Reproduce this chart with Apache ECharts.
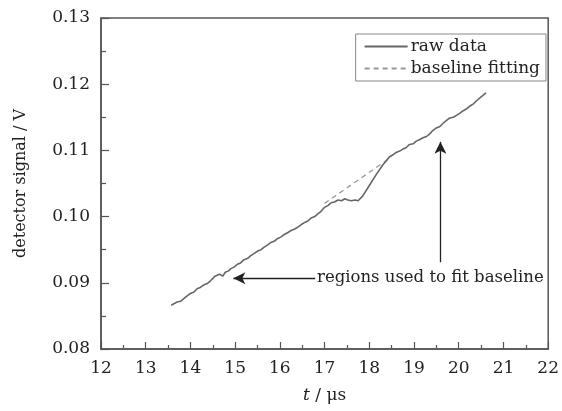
<!DOCTYPE html>
<html>
<head>
<meta charset="utf-8">
<script src="https://cdn.jsdelivr.net/npm/echarts@6/dist/echarts.min.js"></script>
<style>
  html, body { margin: 0; padding: 0; background: #fff; }
  #main { width: 562px; height: 411px; }
</style>
</head>
<body>
<div id="main"></div>
<script>
// raw detector trace [t (us), signal (V)]
var rawData = [
    [13.57, 0.0866], [13.65, 0.0869], [13.7, 0.0871], [13.78, 0.0872], [13.85, 0.0876],
    [13.92, 0.0880], [14.0, 0.0884], [14.08, 0.0886], [14.15, 0.0891], [14.22, 0.0893],
    [14.3, 0.0897], [14.38, 0.0899], [14.45, 0.0903], [14.55, 0.0910], [14.65, 0.0913],
    [14.72, 0.0910], [14.78, 0.0916], [14.85, 0.0918], [14.9, 0.0921], [14.98, 0.0924],
    [15.05, 0.0928], [15.12, 0.0930], [15.2, 0.0935], [15.28, 0.0937], [15.35, 0.0941],
    [15.42, 0.0944], [15.5, 0.0948], [15.58, 0.0950], [15.65, 0.0954], [15.72, 0.0957],
    [15.8, 0.0961], [15.88, 0.0963], [15.95, 0.0967], [16.02, 0.0969], [16.1, 0.0973],
    [16.18, 0.0976], [16.25, 0.0979], [16.32, 0.0981], [16.4, 0.0984], [16.48, 0.0988],
    [16.55, 0.0991], [16.62, 0.0993], [16.7, 0.0998], [16.78, 0.1000], [16.85, 0.1004],
    [16.92, 0.1008], [17.0, 0.1014], [17.08, 0.1017], [17.15, 0.1021], [17.22, 0.1022],
    [17.3, 0.1025], [17.38, 0.1024], [17.45, 0.1027], [17.52, 0.1025], [17.6, 0.1024],
    [17.68, 0.1025], [17.75, 0.1024], [17.85, 0.1031], [18.0, 0.1047], [18.15, 0.1063],
    [18.3, 0.1078], [18.45, 0.1090], [18.52, 0.1093], [18.6, 0.1097], [18.68, 0.1099],
    [18.75, 0.1102], [18.82, 0.1104], [18.9, 0.1109], [18.98, 0.1110], [19.05, 0.1114],
    [19.12, 0.1116], [19.2, 0.1119], [19.28, 0.1121], [19.35, 0.1125], [19.42, 0.1130],
    [19.5, 0.1134], [19.58, 0.1136], [19.65, 0.1141], [19.72, 0.1145], [19.8, 0.1149],
    [19.88, 0.1150], [19.95, 0.1153], [20.02, 0.1156], [20.1, 0.1160], [20.18, 0.1163],
    [20.25, 0.1167], [20.32, 0.1170], [20.4, 0.1175], [20.5, 0.1181], [20.61, 0.1187]
];
// fitted baseline across the dip
var baselineData = [[17.0, 0.1020], [18.45, 0.1088]];

var seriesNames = ['raw data', 'baseline fitting'];
var xTicks = [12, 22, 1];
var yTicks = [0.08, 0.13, 0.01];

// annotation arrows, in data units
var arrowLeft = [[16.79, 0.0907], [14.96, 0.0907]];
var arrowUp = [[19.59, 0.0931], [19.59, 0.1113]];
var noteText = 'regions used to fit baseline';
var notePos = [16.83, 0.0907];

var FONT = '"DejaVu Serif", "Liberation Serif", serif';
var AXIS_COLOR = '#555';

var myChart = echarts.init(document.getElementById('main'));

function arrowLine(pts) {
    return [{ coord: pts[0], symbol: 'none' }, { coord: pts[1], symbol: 'arrow' }];
}

var option = {
    animation: false,
    backgroundColor: '#fff',
    textStyle: { fontFamily: FONT },
    grid: {
        left: 101, right: 8, top: 18, bottom: 62,
        show: true, borderColor: AXIS_COLOR, borderWidth: 1.5
    },
    legend: {
        orient: 'vertical',
        right: 16, top: 34,
        data: seriesNames,
        itemWidth: 43, itemHeight: 10, itemGap: 5,
        padding: [4, 6, 4, 8],
        borderColor: '#888', borderWidth: 1,
        itemStyle: { opacity: 0 },
        textStyle: { fontFamily: FONT, fontSize: 17, color: '#222', padding: [0, 0, 0, -2] }
    },
    xAxis: {
        type: 'value',
        min: xTicks[0], max: xTicks[1], interval: xTicks[2],
        name: '{i|t} / μs',
        nameLocation: 'middle', nameGap: 38,
        nameTextStyle: {
            fontFamily: FONT, fontSize: 17, color: '#222',
            rich: { i: { fontFamily: FONT, fontSize: 17, fontStyle: 'italic', color: '#222' } }
        },
        axisLine: { lineStyle: { color: AXIS_COLOR, width: 1.5 } },
        axisTick: { inside: true, length: 7, lineStyle: { color: AXIS_COLOR, width: 1.2 } },
        minorTick: { show: true, splitNumber: 2, length: 4, lineStyle: { color: AXIS_COLOR, width: 1.2 } },
        axisLabel: { fontFamily: FONT, fontSize: 17, color: '#222', margin: 11 },
        splitLine: { show: false }
    },
    yAxis: {
        type: 'value',
        min: yTicks[0], max: yTicks[1], interval: yTicks[2],
        name: 'detector signal / V',
        nameLocation: 'middle', nameGap: 72,
        nameTextStyle: { fontFamily: FONT, fontSize: 16, color: '#222' },
        axisLine: { lineStyle: { color: AXIS_COLOR, width: 1.5 } },
        axisTick: { inside: true, length: 8, lineStyle: { color: AXIS_COLOR, width: 1.2 } },
        minorTick: { show: true, splitNumber: 2, length: 5, lineStyle: { color: AXIS_COLOR, width: 1.2 } },
        axisLabel: {
            fontFamily: FONT, fontSize: 17, color: '#222', margin: 11,
            formatter: function (v) { return v.toFixed(2); }
        },
        splitLine: { show: false }
    },
    series: [
        {
            name: seriesNames[0],
            type: 'line',
            data: rawData,
            symbol: 'none',
            lineStyle: { color: '#666', width: 1.6 },
            itemStyle: { color: '#666' },
            z: 3,
            markLine: {
                silent: true,
                symbolSize: [9, 12],
                label: { show: false },
                lineStyle: { color: '#222', width: 1.3, type: 'solid' },
                data: [arrowLine(arrowLeft), arrowLine(arrowUp)]
            }
        },
        {
            name: seriesNames[1],
            type: 'line',
            data: baselineData,
            symbol: 'none',
            lineStyle: { color: '#999', width: 1.3, type: [5, 4] },
            itemStyle: { color: '#999' },
            z: 2
        }
    ]
};
myChart.setOption(option);

var p = myChart.convertToPixel({ gridIndex: 0 }, notePos);
myChart.setOption({
    graphic: [{
        type: 'text',
        x: p[0], y: p[1],
        style: {
            text: noteText,
            fontFamily: FONT, fontSize: 16.5, fill: '#222',
            verticalAlign: 'middle', align: 'left'
        }
    }]
});
</script>
</body>
</html>
